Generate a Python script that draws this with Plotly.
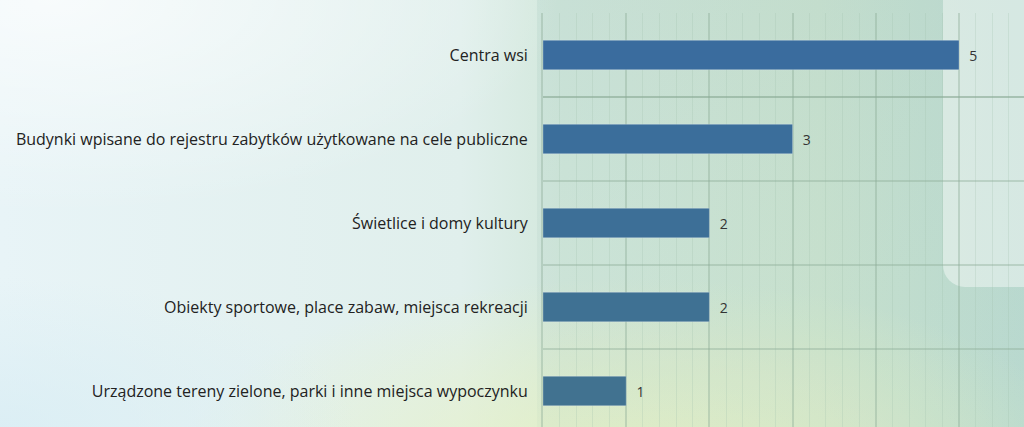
import base64
import plotly.graph_objects as go

categories = [
    "Centra wsi",
    "Budynki wpisane do rejestru zabytków użytkowane na cele publiczne",
    "Świetlice i domy kultury",
    "Obiekty sportowe, place zabaw, miejsca rekreacji",
    "Urządzone tereny zielone, parki i inne miejsca wypoczynku",
]
values = [5, 3, 2, 2, 1]
bar_colors = ["#3a6c9e", "#3b6e9b", "#3d6f97", "#3f7193", "#417290"]

W, H = 1024, 427
L, T = 543, 13
PW, PH = W - L, H - T

# decorative background drawn as an svg
svg = f"""<svg xmlns='http://www.w3.org/2000/svg' width='{W}' height='{H}' viewBox='0 0 {W} {H}'>
<defs>
<linearGradient id='h' x1='0' y1='0' x2='1' y2='0'>
<stop offset='0' stop-color='#e8f4f7'/>
<stop offset='0.45' stop-color='#e0efec'/>
<stop offset='0.55' stop-color='#d3e8dc'/>
<stop offset='0.8' stop-color='#cce4d0'/>
<stop offset='1' stop-color='#bcdcd2'/>
</linearGradient>
<radialGradient id='w' cx='0.05' cy='0' r='0.5'>
<stop offset='0' stop-color='#ffffff' stop-opacity='0.7'/>
<stop offset='1' stop-color='#ffffff' stop-opacity='0'/>
</radialGradient>
<radialGradient id='y' cx='0.62' cy='1.1' r='0.45'>
<stop offset='0' stop-color='#e8f2c4' stop-opacity='0.95'/>
<stop offset='1' stop-color='#e8f2c4' stop-opacity='0'/>
</radialGradient>
<radialGradient id='b' cx='0.0' cy='1.0' r='0.35'>
<stop offset='0' stop-color='#d8edf4' stop-opacity='0.8'/>
<stop offset='1' stop-color='#d8edf4' stop-opacity='0'/>
</radialGradient>
<linearGradient id='t' x1='0' y1='0' x2='0' y2='1'>
<stop offset='0' stop-color='#b8d4cf' stop-opacity='0.25'/>
<stop offset='1' stop-color='#b8d4cf' stop-opacity='0'/>
</linearGradient>
</defs>
<rect width='{W}' height='{H}' fill='url(#h)'/>
<rect width='{W}' height='{H}' fill='url(#y)'/>
<rect width='{W}' height='{H}' fill='url(#b)'/>
<rect x='537' width='{W}' height='{H}' fill='url(#t)'/>
<rect width='{W}' height='{H}' fill='url(#w)'/>
<rect x='537' y='0' width='{W}' height='{H}' fill='#9cc0b0' fill-opacity='0.08'/>
<rect x='943' y='-40' width='200' height='327' rx='22' fill='#ffffff' fill-opacity='0.42'/>
</svg>"""
src = "data:image/svg+xml;base64," + base64.b64encode(svg.encode()).decode()

fig = go.Figure()
fig.add_trace(
    go.Bar(
        x=values,
        y=categories,
        orientation="h",
        width=0.35,
        marker=dict(color=bar_colors, line=dict(color="rgba(255,255,255,0.25)", width=1)),
        text=values,
        texttemplate="  %{text}",
        textposition="outside",
        textfont=dict(color="#333333", size=14, family="Open Sans"),
        cliponaxis=False,
    )
)

fig.add_layout_image(
    dict(
        source=src,
        xref="paper",
        yref="paper",
        x=-L / PW,
        y=1 + T / PH,
        sizex=W / PW,
        sizey=H / PH,
        xanchor="left",
        yanchor="top",
        sizing="stretch",
        layer="below",
    )
)

fig.update_layout(
    width=W,
    height=H,
    margin=dict(l=L, r=0, t=T, b=0, pad=0),
    paper_bgcolor="rgba(0,0,0,0)",
    plot_bgcolor="rgba(0,0,0,0)",
    font=dict(family="Open Sans", size=16, color="#222222"),
    showlegend=False,
)
fig.update_xaxes(
    range=[0, PW / 83.2],
    dtick=1,
    showticklabels=False,
    zeroline=False,
    showgrid=True,
    gridcolor="rgba(140,170,150,0.38)",
    gridwidth=2,
    minor=dict(dtick=0.2, showgrid=True, gridcolor="rgba(160,190,170,0.25)", gridwidth=1),
)
fig.update_yaxes(
    range=[PH / 84 - 0.5, -0.5],
    tickson="boundaries",
    ticks="",
    showgrid=True,
    gridcolor="rgba(140,170,150,0.38)",
    gridwidth=2,
    ticklabelstandoff=10,
    showline=True,
    linecolor="rgba(140,170,150,0.38)",
    linewidth=2,
)

fig.write_html(
    "out.html",
    config={"displayModeBar": False},
    post_script="document.body.style.margin='0';document.body.style.overflow='hidden';",
)
